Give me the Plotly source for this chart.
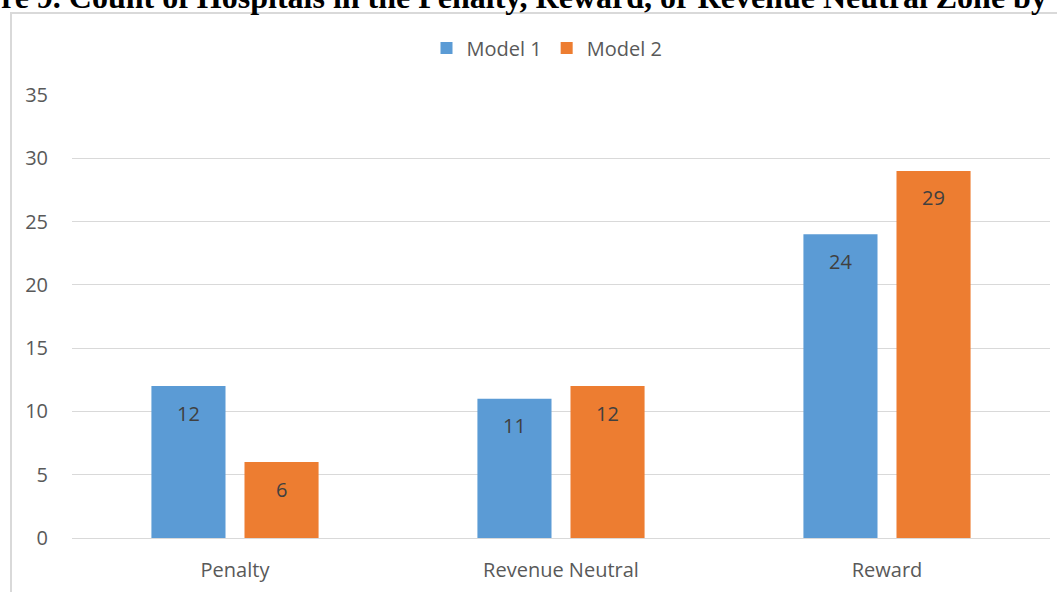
import plotly.graph_objects as go

categories = ["Penalty", "Revenue Neutral", "Reward"]
model1 = [12, 11, 24]
model2 = [6, 12, 29]
series_names = ["Model 1", "Model 2"]
title_text = "re 9. Count of Hospitals in the Penalty, Reward, or Revenue Neutral Zone by"

W, H = 1057, 592
ml, mr, mt, mb = 72, 7, 95, 54
pw = W - ml - mr
ph = H - mt - mb

def px_x(p):
    return (p - ml) / pw

def px_y(p):
    return 1 - (p - mt) / ph

blue = "#5B9BD5"
orange = "#ED7D31"
fontfam = "Open Sans, Noto Sans, sans-serif"

fig = go.Figure()
fig.add_trace(go.Bar(x=categories, y=model1, name=series_names[0], marker=dict(color=blue, line=dict(width=0))))
fig.add_trace(go.Bar(x=categories, y=model2, name=series_names[1], marker=dict(color=orange, line=dict(width=0))))

annotations = []
slot_shift = 46.5
for vals, sh in ((model1, -slot_shift), (model2, slot_shift)):
    for c, v in zip(categories, vals):
        annotations.append(dict(x=c, y=v, xref="x", yref="y", text=str(v), showarrow=False,
                                xshift=sh, yshift=-27, yanchor="middle",
                                font=dict(family=fontfam, size=20, color="#404040")))

annotations.append(dict(x=px_x(-1), y=px_y(17), xref="paper", yref="paper", xanchor="left", yanchor="bottom",
                        text="<b>" + title_text + "</b>", showarrow=False,
                        font=dict(family="Liberation Serif, Times New Roman, serif", size=32, color="black")))

fig.update_layout(
    width=W, height=H,
    margin=dict(l=ml, r=mr, t=mt, b=mb),
    paper_bgcolor="white", plot_bgcolor="white",
    barmode="group", bargap=0.429, bargroupgap=0.204,
    showlegend=True,
    legend=dict(orientation="h", x=px_x(547), xanchor="center", y=px_y(48), yanchor="middle",
                font=dict(family=fontfam, size=20, color="#595959"), itemwidth=30),
    xaxis=dict(showgrid=False, showline=False, ticks="", ticklabelstandoff=18,
               tickfont=dict(family=fontfam, size=20, color="#595959")),
    yaxis=dict(range=[0, 35], dtick=5, showgrid=True, gridcolor="#d9d9d9", gridwidth=1,
               zeroline=True, zerolinecolor="#d9d9d9", zerolinewidth=1, showline=False, ticks="",
               ticklabelstandoff=23,
               tickfont=dict(family=fontfam, size=20, color="#595959")),
    annotations=annotations,
    shapes=[dict(type="rect", xref="paper", yref="paper", x0=px_x(11), x1=px_x(1200), y0=px_y(800), y1=px_y(13),
                 line=dict(color="#d9d9d9", width=2), fillcolor="rgba(0,0,0,0)", layer="below")],
)

fig.write_html("out.html")
